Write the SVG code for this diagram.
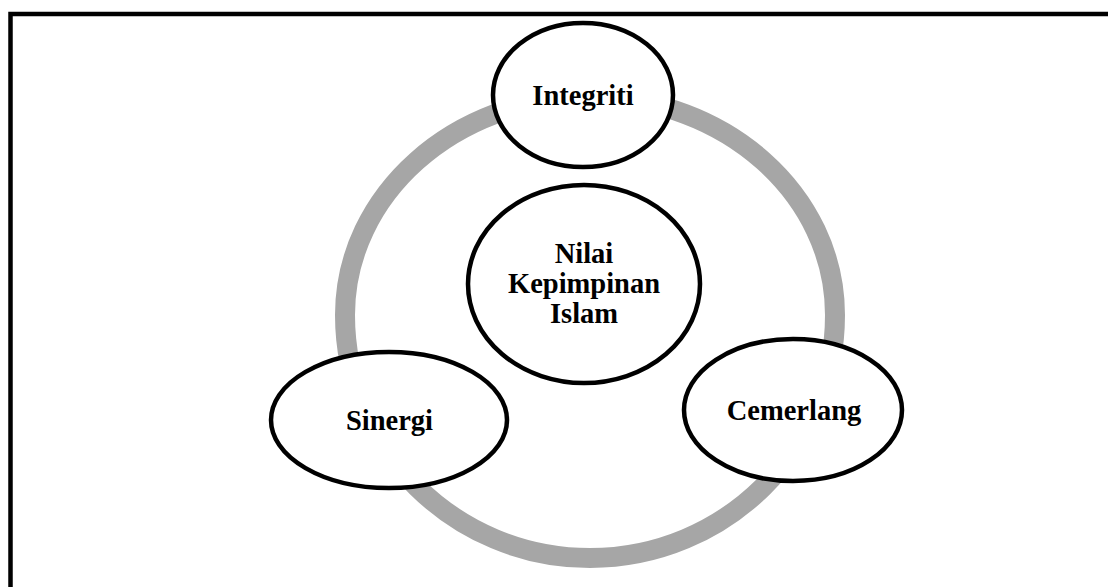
<svg xmlns="http://www.w3.org/2000/svg" width="1108" height="587" viewBox="0 0 1108 587">
<style>
.node{fill:#ffffff;stroke:#000000;stroke-width:4.5}
.lbl{font-family:"Liberation Serif","Times New Roman",serif;font-weight:bold;font-size:28.5px;fill:#000000;text-anchor:middle}
.ring{fill:none;stroke:#a6a6a6;stroke-width:20}
</style>
<rect width="1108" height="587" fill="#ffffff"/>
<path d="M10.5,600 V14 H1120" fill="none" stroke="#000000" stroke-width="4.5"/>
<g id="connectors">
<path class="ring" d="M345,315 C345,194.6 454.7,97 590,97 C725.3,97 835,194.6 835,315 C835,449.2 725.3,558 590,558 C454.7,558 345,449.2 345,315 Z"/>
</g>
<g id="node-center">
<ellipse class="node" cx="584" cy="284" rx="116" ry="99"/>
<text class="lbl" x="584" y="263">Nilai</text>
<text class="lbl" x="584" y="293">Kepimpinan</text>
<text class="lbl" x="584" y="323">Islam</text>
</g>
<g id="node-integriti">
<ellipse class="node" cx="583" cy="95" rx="90" ry="72"/>
<text class="lbl" x="583" y="105">Integriti</text>
</g>
<g id="node-sinergi">
<ellipse class="node" cx="389" cy="420" rx="118" ry="68"/>
<text class="lbl" x="389.5" y="430">Sinergi</text>
</g>
<g id="node-cemerlang">
<ellipse class="node" cx="793" cy="410" rx="109" ry="71"/>
<text class="lbl" x="794" y="420">Cemerlang</text>
</g>
</svg>
